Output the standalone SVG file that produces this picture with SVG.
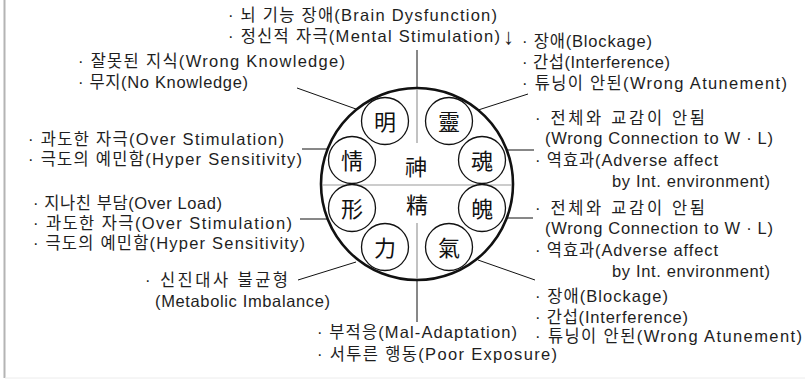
<svg xmlns="http://www.w3.org/2000/svg" width="805" height="379" viewBox="0 0 805 379">
<style>
.t{font-family:"Liberation Sans","Noto Sans CJK KR",sans-serif;font-size:16.5px;fill:#1e1e1e}
.h{font-family:"Noto Sans CJK KR","Noto Sans CJK SC",sans-serif;font-size:22px;fill:#111;text-anchor:middle}
.sc{fill:#fff;stroke:#111;stroke-width:1.3}
.ln{stroke:#111;stroke-width:1;fill:none}
.gl{stroke:#999;stroke-width:1.2;fill:none}
</style>
<rect x="0" y="0" width="805" height="379" fill="#fff"/>
<line x1="4.5" y1="0" x2="4.5" y2="378" stroke="#b4b4b4" stroke-width="2"/>
<line x1="5" y1="378" x2="805" y2="378" stroke="#ececec" stroke-width="1"/>

<g id="connectors">
<line class="ln" x1="417" y1="50" x2="417" y2="88"/>
<line class="ln" x1="417" y1="280" x2="417" y2="322"/>
<line class="ln" x1="297" y1="88" x2="356" y2="109"/>
<line class="ln" x1="472" y1="112" x2="528" y2="94"/>
<line class="ln" x1="302" y1="149" x2="328" y2="149"/>
<line class="ln" x1="300" y1="219" x2="327" y2="219"/>
<line class="ln" x1="298" y1="280" x2="356" y2="262"/>
<line class="ln" x1="506" y1="150" x2="534" y2="150"/>
<line class="ln" x1="506" y1="218" x2="533" y2="218"/>
<line class="ln" x1="478" y1="260" x2="535" y2="280"/>
</g>

<g id="main-circle">
<circle cx="417" cy="184" r="96" fill="#fff" stroke="#111" stroke-width="2.6"/>
<line class="gl" x1="417" y1="89" x2="417" y2="143"/>
<line class="gl" x1="417" y1="223" x2="417" y2="279"/>
<line class="gl" x1="322" y1="185" x2="512" y2="185"/>
<text class="h" x="416" y="175">神</text>
<text class="h" x="417" y="213">精</text>
</g>

<g id="node-ming"><circle class="sc" cx="385" cy="121" r="23.5"/><text class="h" x="385" y="129.5">明</text></g>
<g id="node-ling"><circle class="sc" cx="449" cy="121" r="23.5"/><text class="h" x="449" y="129.5">靈</text></g>
<g id="node-qing"><circle class="sc" cx="352" cy="160" r="23.5"/><text class="h" x="352" y="168.5">情</text></g>
<g id="node-hun"><circle class="sc" cx="482" cy="160" r="23.5"/><text class="h" x="482" y="168.5">魂</text></g>
<g id="node-xing"><circle class="sc" cx="352" cy="208" r="23.5"/><text class="h" x="352" y="216.5">形</text></g>
<g id="node-po"><circle class="sc" cx="482" cy="208" r="23.5"/><text class="h" x="482" y="216.5">魄</text></g>
<g id="node-li"><circle class="sc" cx="385" cy="247" r="23.5"/><text class="h" x="385" y="255.5">力</text></g>
<g id="node-qi"><circle class="sc" cx="449" cy="247" r="23.5"/><text class="h" x="449" y="255.5">氣</text></g>

<g id="label-top">
<text class="t" x="228" y="21" textLength="269">· 뇌 기능 장애(Brain Dysfunction)</text>
<text class="t" x="228" y="42" textLength="272">· 정신적 자극(Mental Stimulation)</text>
<text class="t" x="503" y="44" style="font-size:22px">↓</text>
</g>
<g id="label-ming">
<text class="t" x="78" y="67" textLength="267">· 잘못된 지식(Wrong Knowledge)</text>
<text class="t" x="78" y="88" textLength="170">· 무지(No Knowledge)</text>
</g>
<g id="label-ling">
<text class="t" x="522" y="47" textLength="130">· 장애(Blockage)</text>
<text class="t" x="522" y="68" textLength="148">· 간섭(Interference)</text>
<text class="t" x="522" y="89" textLength="265">· 튜닝이 안된(Wrong Atunement)</text>
</g>
<g id="label-qing">
<text class="t" x="28" y="145" textLength="256">· 과도한 자극(Over Stimulation)</text>
<text class="t" x="28" y="165" textLength="274">· 극도의 예민함(Hyper Sensitivity)</text>
</g>
<g id="label-xing">
<text class="t" x="33" y="209" textLength="189">· 지나친 부담(Over Load)</text>
<text class="t" x="33" y="229" textLength="259">· 과도한 자극(Over Stimulation)</text>
<text class="t" x="33" y="249" textLength="272">· 극도의 예민함(Hyper Sensitivity)</text>
</g>
<g id="label-li">
<text class="t" x="145" y="286" textLength="143">· 신진대사 불균형</text>
<text class="t" x="155" y="307" textLength="175">(Metabolic Imbalance)</text>
</g>
<g id="label-bottom">
<text class="t" x="317" y="338" textLength="200">· 부적응(Mal-Adaptation)</text>
<text class="t" x="317" y="360" textLength="240">· 서투른 행동(Poor Exposure)</text>
</g>
<g id="label-hun">
<text class="t" x="535" y="124" textLength="170">· 전체와 교감이 안됨</text>
<text class="t" x="545" y="144" textLength="228">(Wrong Connection to W · L)</text>
<text class="t" x="535" y="166" textLength="183">· 역효과(Adverse affect</text>
<text class="t" x="612" y="187" textLength="158">by Int. environment)</text>
</g>
<g id="label-po">
<text class="t" x="535" y="214" textLength="170">· 전체와 교감이 안됨</text>
<text class="t" x="545" y="234" textLength="228">(Wrong Connection to W · L)</text>
<text class="t" x="535" y="256" textLength="183">· 역효과(Adverse affect</text>
<text class="t" x="612" y="277" textLength="158">by Int. environment)</text>
</g>
<g id="label-qi">
<text class="t" x="535" y="302" textLength="133">· 장애(Blockage)</text>
<text class="t" x="535" y="323" textLength="153">· 간섭(Interference)</text>
<text class="t" x="535" y="342" textLength="267">· 튜닝이 안된(Wrong Atunement)</text>
</g>
</svg>
